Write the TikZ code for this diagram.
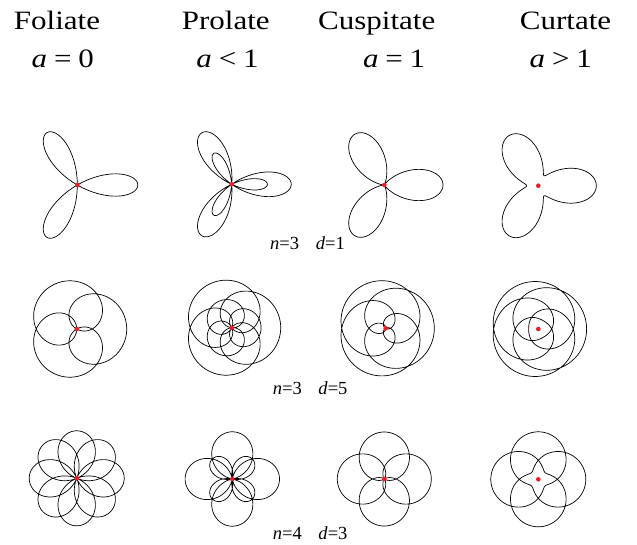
\documentclass[tikz,border=0pt]{standalone}
\usepackage{fontspec}
\setmainfont{Liberation Serif}
\definecolor{dotred}{RGB}{235,30,40}
\newcommand\rosecurve[7]{% cx cy R a k period samples
  \draw[curve] plot[domain=0:#6, samples=#7, variable=\t]
    ({#1+#3*(#4+cos(#5*\t))/(1+#4)*cos(\t)}, {#2+#3*(#4+cos(#5*\t))/(1+#4)*sin(\t)});
  \fill[reddot] (#1,#2) circle (2.3pt);
}
\newcommand\headtxt[1]{\scalebox{1.17}[1]{#1}}
\begin{document}
\begin{tikzpicture}[x=1pt,y=-1pt,
  curve/.style={line width=0.7pt, black},
  reddot/.style={fill=dotred},
  head/.style={anchor=base, inner sep=0pt, font=\fontsize{26.5}{30}\selectfont},
  lab/.style={anchor=base west, inner sep=0pt, font=\fontsize{18.5}{20}\selectfont}]
\useasboundingbox[fill=white] (0,0) rectangle (637,545);

% headers
\node[head] (h1) at (57,30) {\headtxt{Foliate}};
\node[head] (h2) at (225.8,30) {\headtxt{Prolate}};
\node[head] (h3) at (376.7,30) {\headtxt{Cuspitate}};
\node[head] (h4) at (565.5,30) {\headtxt{Curtate}};
\node[head] (a1) at (62.8,68) {\headtxt{\textit{a}\hspace{0.22em}=\hspace{0.22em}0}};
\node[head] (a2) at (227.5,68) {\headtxt{\textit{a}\hspace{0.22em}<\hspace{0.22em}1}};
\node[head] (a3) at (394.2,68) {\headtxt{\textit{a}\hspace{0.22em}=\hspace{0.22em}1}};
\node[head] (a4) at (560.8,68) {\headtxt{\textit{a}\hspace{0.22em}>\hspace{0.22em}1}};

% row 1: n=3, d=1
\rosecurve{77.3}{185}{60.5}{0}{3}{360}{361}
\rosecurve{231.7}{184.3}{59.5}{0.25}{3}{360}{361}
\rosecurve{384.3}{185}{58.7}{1}{3}{360}{361}
\rosecurve{538.3}{185.7}{58}{1.5}{3}{360}{361}
\node[lab] (l1) at (270,250) {\textit{n}=3\hspace{0.9em}\textit{d}=1};

% row 2: n=3, d=5
\rosecurve{76.7}{329}{50}{0}{0.6}{1800}{1201}
\rosecurve{231.7}{327.7}{49}{0.25}{0.6}{1800}{1201}
\rosecurve{385.7}{328.3}{48.6}{1}{0.6}{1800}{1201}
\rosecurve{538.3}{329}{48.3}{1.5}{0.6}{1800}{1201}
\node[lab] (l2) at (272.7,394) {\textit{n}=3\hspace{0.9em}\textit{d}=5};

% row 3: n=4, d=3
\rosecurve{76.7}{478.3}{47.5}{0}{1.333333}{1080}{721}
\rosecurve{232.3}{479}{47.2}{0.25}{1.333333}{1080}{721}
\rosecurve{384.3}{479}{47}{1}{1.333333}{1080}{721}
\rosecurve{538.3}{479.3}{47.5}{1.5}{1.333333}{1080}{721}
\node[lab] (l3) at (272.7,539) {\textit{n}=4\hspace{0.9em}\textit{d}=3};
\end{tikzpicture}
\end{document}
